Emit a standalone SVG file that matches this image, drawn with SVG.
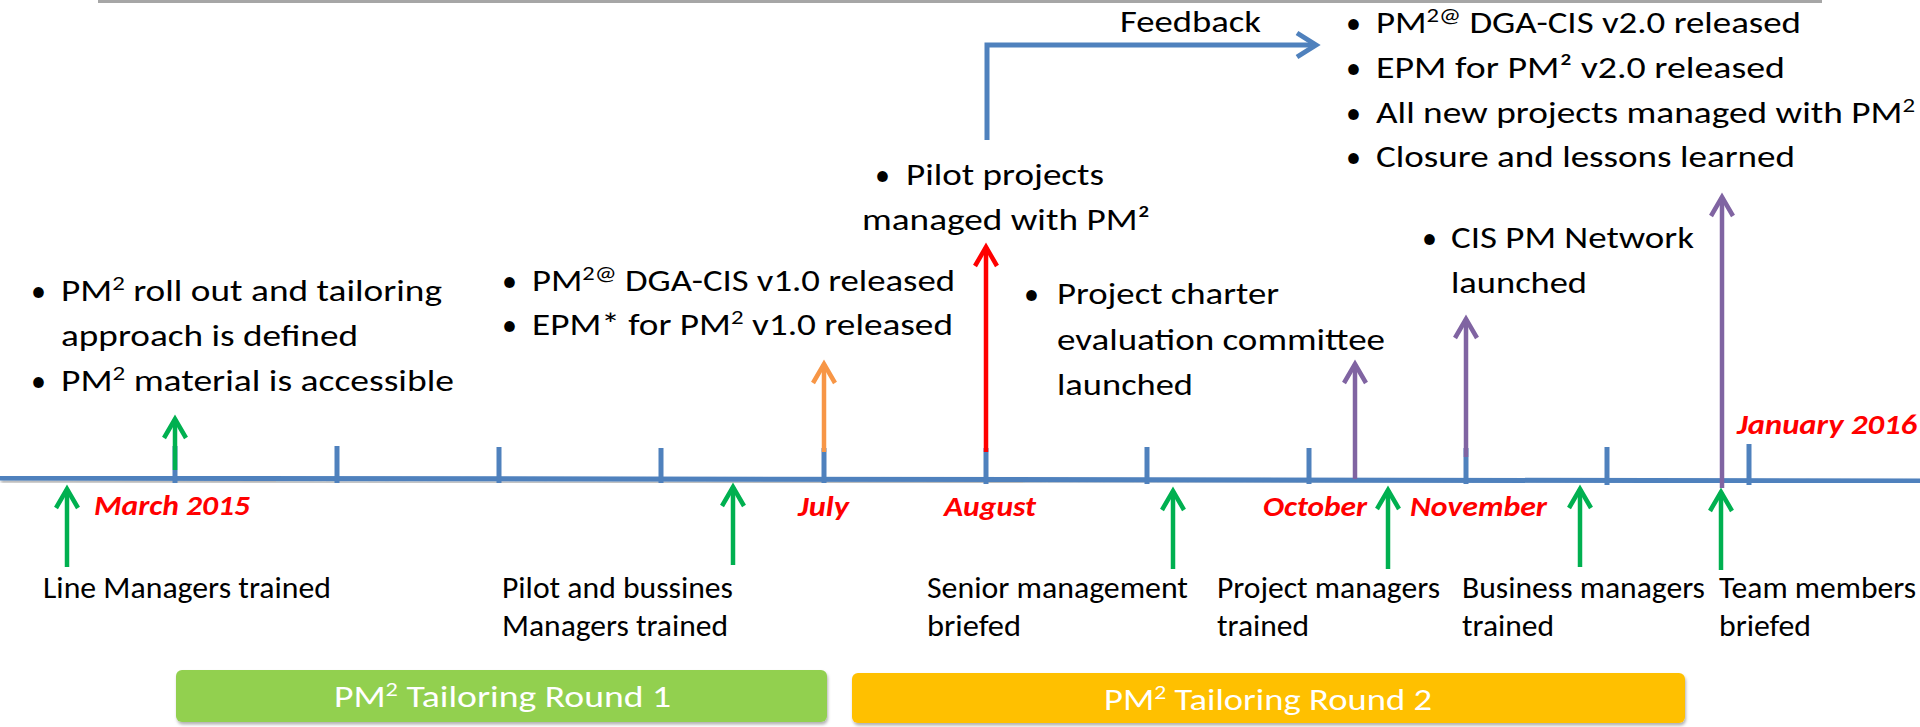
<svg xmlns="http://www.w3.org/2000/svg" width="1920" height="727" viewBox="0 0 1920 727">
<style>
text{font-family:Carlito,Lato,"Liberation Sans",sans-serif;fill:#000}
.t{font-size:30px}
.b{font-size:30px}
.m{font-size:28px;font-weight:bold;font-style:italic;fill:#FF0000}
.bx{font-size:31px;fill:#fff}
.tick{stroke:#4F81BD;stroke-width:5;fill:none}
.g{stroke:#00B050;stroke-width:4.5;fill:none}
.o{stroke:#F79646;stroke-width:4.5;fill:none}
.r{stroke:#FF0000;stroke-width:4.5;fill:none}
.p{stroke:#8064A2;stroke-width:4.5;fill:none}
.fb{stroke:#4F81BD;stroke-width:5;fill:none}
</style>
<defs>
<filter id="sh" x="-5%" y="-50%" width="110%" height="200%">
<feDropShadow dx="1" dy="2.5" stdDeviation="1.5" flood-color="#000" flood-opacity="0.3"/>
</filter>
<marker id="ag" markerUnits="userSpaceOnUse" orient="auto" refX="0" refY="0" overflow="visible"><path d="M-19,-11 L0,0 L-19,11" stroke="#00B050" stroke-width="4.5" fill="none" stroke-linejoin="miter"/></marker>
<marker id="ao" markerUnits="userSpaceOnUse" orient="auto" refX="0" refY="0" overflow="visible"><path d="M-19,-11 L0,0 L-19,11" stroke="#F79646" stroke-width="4.5" fill="none"/></marker>
<marker id="ar" markerUnits="userSpaceOnUse" orient="auto" refX="0" refY="0" overflow="visible"><path d="M-19,-11 L0,0 L-19,11" stroke="#FF0000" stroke-width="4.5" fill="none"/></marker>
<marker id="ap" markerUnits="userSpaceOnUse" orient="auto" refX="0" refY="0" overflow="visible"><path d="M-19,-11 L0,0 L-19,11" stroke="#8064A2" stroke-width="4.5" fill="none"/></marker>
<marker id="ab" markerUnits="userSpaceOnUse" orient="auto" refX="0" refY="0" overflow="visible"><path d="M-19,-12 L0,0 L-19,12" stroke="#4F81BD" stroke-width="5" fill="none"/></marker>
</defs>
<rect width="1920" height="727" fill="#fff"/>
<line x1="98" y1="1.5" x2="1822" y2="1.5" stroke="#A6A6A6" stroke-width="3"/>

<g id="timeline">
<line x1="0" y1="478" x2="1920" y2="481" stroke="#4F81BD" stroke-width="5" filter="url(#sh)"/>
<g class="tick">
<line x1="175" y1="446" x2="175" y2="483"/>
<line x1="337" y1="446" x2="337" y2="483"/>
<line x1="499" y1="447" x2="499" y2="483"/>
<line x1="661" y1="448" x2="661" y2="483"/>
<line x1="824" y1="448" x2="824" y2="483"/>
<line x1="986" y1="448" x2="986" y2="484"/>
<line x1="1147" y1="447" x2="1147" y2="484"/>
<line x1="1309" y1="448" x2="1309" y2="484"/>
<line x1="1466" y1="448" x2="1466" y2="484"/>
<line x1="1607" y1="447" x2="1607" y2="485"/>
<line x1="1749" y1="444" x2="1749" y2="485"/>
</g>
</g>

<g id="connectors">
<path class="g" d="M67,567 L67,489" marker-end="url(#ag)"/>
<path class="g" d="M175,470 L175,419" marker-end="url(#ag)"/>
<path class="g" d="M733,565 L733,487" marker-end="url(#ag)"/>
<path class="g" d="M1173,569 L1173,491" marker-end="url(#ag)"/>
<path class="g" d="M1388,569 L1388,490" marker-end="url(#ag)"/>
<path class="g" d="M1580,567 L1580,489" marker-end="url(#ag)"/>
<path class="g" d="M1721,570 L1721,492" marker-end="url(#ag)"/>
<path class="o" d="M824,452 L824,364" marker-end="url(#ao)"/>
<path class="r" d="M986,452 L986,247" marker-end="url(#ar)"/>
<path class="p" d="M1355,479 L1355,364" marker-end="url(#ap)"/>
<path class="p" d="M1466,457 L1466,319" marker-end="url(#ap)"/>
<path class="p" d="M1722,488 L1722,197" marker-end="url(#ap)"/>
<path class="fb" d="M987,140 L987,45 L1316,45" marker-end="url(#ab)"/>
</g>

<g id="months">
<text class="m" x="94" y="515" textLength="156" lengthAdjust="spacingAndGlyphs">March 2015</text>
<text class="m" x="798" y="516" textLength="51" lengthAdjust="spacingAndGlyphs">July</text>
<text class="m" x="944" y="516" textLength="92" lengthAdjust="spacingAndGlyphs">August</text>
<text class="m" x="1263" y="516" textLength="104" lengthAdjust="spacingAndGlyphs">October</text>
<text class="m" x="1410" y="516" textLength="137" lengthAdjust="spacingAndGlyphs">November</text>
<text class="m" x="1737" y="434" textLength="180" lengthAdjust="spacingAndGlyphs">January 2016</text>
</g>

<g id="feedback-label">
<text class="t" x="1120" y="32" textLength="141" lengthAdjust="spacingAndGlyphs">Feedback</text>
</g>

<g id="node-rollout">
<text class="t" x="31" y="301">•</text>
<text class="t" x="61" y="301" textLength="381" lengthAdjust="spacingAndGlyphs">PM<tspan font-size="20" dy="-11">2</tspan><tspan dy="11"> roll out and tailoring</tspan></text>
<text class="t" x="61" y="346" textLength="297" lengthAdjust="spacingAndGlyphs">approach is defined</text>
<text class="t" x="31" y="391">•</text>
<text class="t" x="61" y="391" textLength="393" lengthAdjust="spacingAndGlyphs">PM<tspan font-size="20" dy="-11">2</tspan><tspan dy="11">  material is accessible</tspan></text>
</g>

<g id="node-v1">
<text class="t" x="502" y="291">•</text>
<text class="t" x="532" y="291" textLength="423" lengthAdjust="spacingAndGlyphs">PM<tspan font-size="20" dy="-11">2@</tspan><tspan dy="11"> DGA-CIS v1.0 released</tspan></text>
<text class="t" x="502" y="335">•</text>
<text class="t" x="532" y="335" textLength="421" lengthAdjust="spacingAndGlyphs">EPM* for PM<tspan font-size="20" dy="-11">2</tspan><tspan dy="11"> v1.0 released</tspan></text>
</g>

<g id="node-pilot">
<text class="t" x="875" y="185">•</text>
<text class="t" x="906" y="185" textLength="198" lengthAdjust="spacingAndGlyphs">Pilot projects</text>
<text class="t" x="862" y="230" textLength="288" lengthAdjust="spacingAndGlyphs">managed with PM²</text>
</g>

<g id="node-charter">
<text class="t" x="1024" y="304">•</text>
<text class="t" x="1057" y="304" textLength="222" lengthAdjust="spacingAndGlyphs">Project charter</text>
<text class="t" x="1057" y="350" textLength="328" lengthAdjust="spacingAndGlyphs">evaluation committee</text>
<text class="t" x="1057" y="395" textLength="136" lengthAdjust="spacingAndGlyphs">launched</text>
</g>

<g id="node-network">
<text class="t" x="1422" y="248">•</text>
<text class="t" x="1451" y="248" textLength="243" lengthAdjust="spacingAndGlyphs">CIS PM Network</text>
<text class="t" x="1451" y="293" textLength="136" lengthAdjust="spacingAndGlyphs">launched</text>
</g>

<g id="node-v2">
<text class="t" x="1346" y="33">•</text>
<text class="t" x="1376" y="33" textLength="425" lengthAdjust="spacingAndGlyphs">PM<tspan font-size="20" dy="-11">2@</tspan><tspan dy="11"> DGA-CIS v2.0 released</tspan></text>
<text class="t" x="1346" y="78">•</text>
<text class="t" x="1376" y="78" textLength="409" lengthAdjust="spacingAndGlyphs">EPM for PM² v2.0  released</text>
<text class="t" x="1346" y="123">•</text>
<text class="t" x="1376" y="123" textLength="539" lengthAdjust="spacingAndGlyphs">All new projects managed with PM<tspan font-size="20" dy="-11">2</tspan></text>
<text class="t" x="1346" y="167">•</text>
<text class="t" x="1376" y="167" textLength="419" lengthAdjust="spacingAndGlyphs">Closure and lessons learned</text>
</g>

<g id="node-line-managers">
<text class="b" x="43" y="598" textLength="288" lengthAdjust="spacingAndGlyphs">Line Managers trained</text>
</g>
<g id="node-pilot-managers">
<text class="b" x="502" y="598" textLength="231" lengthAdjust="spacingAndGlyphs">Pilot and bussines</text>
<text class="b" x="502" y="636" textLength="226" lengthAdjust="spacingAndGlyphs">Managers trained</text>
</g>
<g id="node-senior">
<text class="b" x="927" y="598" textLength="261" lengthAdjust="spacingAndGlyphs">Senior management</text>
<text class="b" x="927" y="636" textLength="94" lengthAdjust="spacingAndGlyphs">briefed</text>
</g>
<g id="node-project-managers">
<text class="b" x="1217" y="598" textLength="223" lengthAdjust="spacingAndGlyphs">Project managers</text>
<text class="b" x="1217" y="636" textLength="92" lengthAdjust="spacingAndGlyphs">trained</text>
</g>
<g id="node-business-managers">
<text class="b" x="1462" y="598" textLength="243" lengthAdjust="spacingAndGlyphs">Business managers</text>
<text class="b" x="1462" y="636" textLength="92" lengthAdjust="spacingAndGlyphs">trained</text>
</g>
<g id="node-team">
<text class="b" x="1719" y="598" textLength="197" lengthAdjust="spacingAndGlyphs">Team members</text>
<text class="b" x="1719" y="636" textLength="92" lengthAdjust="spacingAndGlyphs">briefed</text>
</g>

<g id="node-round1">
<rect x="176" y="670" width="651" height="52" rx="6" fill="#92D050" filter="url(#sh)"/>
<text class="bx" x="334" y="707" textLength="337" lengthAdjust="spacingAndGlyphs">PM<tspan font-size="20" dy="-11">2</tspan><tspan dy="11"> Tailoring  Round 1</tspan></text>
</g>
<g id="node-round2">
<rect x="852" y="673" width="833" height="50" rx="6" fill="#FFC000" filter="url(#sh)"/>
<text class="bx" x="1104" y="710" textLength="328" lengthAdjust="spacingAndGlyphs">PM<tspan font-size="20" dy="-11">2</tspan><tspan dy="11"> Tailoring Round 2</tspan></text>
</g>
</svg>
